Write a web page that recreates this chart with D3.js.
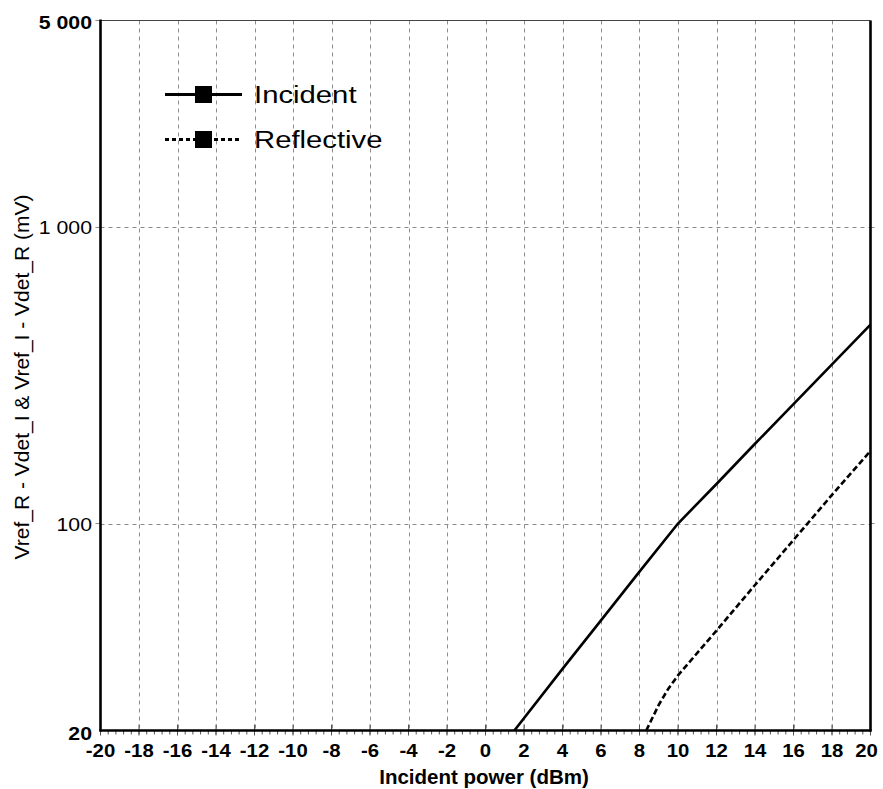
<!DOCTYPE html>
<html>
<head>
<meta charset="utf-8">
<script src="https://cdn.jsdelivr.net/npm/d3@7"></script>
<style>
  html, body { margin: 0; padding: 0; background: #fff; }
  svg { display: block; font-family: "Liberation Sans", Arial, sans-serif; }
</style>
</head>
<body>
<svg id="chart" width="883" height="789"></svg>
<script>
// ---- data ----
const xTicks = [-20,-18,-16,-14,-12,-10,-8,-6,-4,-2,0,2,4,6,8,10,12,14,16,18,20];
const yTickValues = [20, 100, 1000, 5000];
const yTickLabels = ["20", "100", "1 000", "5 000"];
const yTickBold = [true, false, false, true];
const incidentX = [1.5, 4, 6, 8, 10, 12, 14, 16, 18, 20];
const incidentY = [20, 32.3, 47.1, 68.8, 100, 136, 186, 253, 345, 470];
const reflectiveX = [8.35, 9, 9.5, 10, 12, 14, 16, 18, 20];
const reflectiveY = [20, 24.4, 27.7, 30.7, 43.5, 62, 88, 125, 176];
const seriesNames = ["Incident", "Reflective"];

// ---- layout ----
const svg = d3.select("#chart");
const L = 100.5, R = 870.5, T = 20.5, B = 730.5;
const x = d3.scaleLinear().domain([-20, 20]).range([L, R]);
const y = d3.scaleLog().domain([20, 5000]).range([B, T]);

// grid
const grid = svg.append("g");
grid.selectAll("line.v").data(xTicks.filter(d => d > -20 && d < 20)).enter()
  .append("line")
  .attr("x1", d => Math.round(x(d)) + 0.5).attr("x2", d => Math.round(x(d)) + 0.5)
  .attr("y1", T).attr("y2", B)
  .attr("stroke", "#8c8c8c").attr("stroke-width", 1).attr("stroke-dasharray", "4,4");
grid.selectAll("line.h").data([100, 1000]).enter()
  .append("line")
  .attr("x1", L).attr("x2", R)
  .attr("y1", d => Math.round(y(d)) + 0.5).attr("y2", d => Math.round(y(d)) + 0.5)
  .attr("stroke", "#8c8c8c").attr("stroke-width", 1).attr("stroke-dasharray", "4,4");

// minor x ticks (every 0.4)
const minor = d3.range(0, 101).map(i => -20 + i * 0.4);
svg.append("g").selectAll("line").data(minor).enter().append("line")
  .attr("x1", d => x(d)).attr("x2", d => x(d))
  .attr("y1", B).attr("y2", B + 4)
  .attr("stroke", "#555").attr("stroke-width", 1);
// major x ticks
svg.append("g").selectAll("line").data(xTicks).enter().append("line")
  .attr("x1", d => x(d)).attr("x2", d => x(d))
  .attr("y1", B - 6).attr("y2", B + 5)
  .attr("stroke", "#555").attr("stroke-width", 1);
// y ticks outside on left and right
svg.append("g").selectAll("line").data([100, 1000, 5000]).enter().append("line")
  .attr("x1", L - 5).attr("x2", L)
  .attr("y1", d => y(d)).attr("y2", d => y(d))
  .attr("stroke", "#888").attr("stroke-width", 1);
svg.append("g").selectAll("line").data([100, 1000]).enter().append("line")
  .attr("x1", R).attr("x2", R + 4)
  .attr("y1", d => y(d)).attr("y2", d => y(d))
  .attr("stroke", "#888").attr("stroke-width", 1);

// frame
svg.append("line").attr("x1", L).attr("x2", R).attr("y1", T).attr("y2", T)
  .attr("stroke", "#444").attr("stroke-width", 1.2);
svg.append("line").attr("x1", L).attr("x2", L).attr("y1", T - 1).attr("y2", B + 1)
  .attr("stroke", "#000").attr("stroke-width", 2.6);
svg.append("line").attr("x1", R).attr("x2", R).attr("y1", T).attr("y2", B + 1)
  .attr("stroke", "#000").attr("stroke-width", 2.6);
svg.append("line").attr("x1", L - 1).attr("x2", R + 1).attr("y1", B).attr("y2", B)
  .attr("stroke", "#000").attr("stroke-width", 2.6);

// series
const lineGen = d3.line().x(d => x(d[0])).y(d => y(d[1]));
const incData = incidentX.map((v, i) => [v, incidentY[i]]);
const refData = reflectiveX.map((v, i) => [v, reflectiveY[i]]);
svg.append("path").datum(incData).attr("d", lineGen)
  .attr("fill", "none").attr("stroke", "#000").attr("stroke-width", 2.6);
svg.append("path").datum(refData).attr("d", lineGen)
  .attr("fill", "none").attr("stroke", "#000").attr("stroke-width", 2.6)
  .attr("stroke-dasharray", "6,3");

// x tick labels
svg.append("g").selectAll("text").data(xTicks).enter().append("text")
  .attr("transform", d => `translate(${d === 20 ? x(d) - 4 : x(d)},757) scale(1.1,1)`)
  .attr("text-anchor", "middle").attr("font-size", 18.5).attr("font-weight", "bold")
  .attr("fill", "#000")
  .text(d => d);

// y tick labels
svg.append("g").selectAll("text").data(yTickValues).enter().append("text")
  .attr("transform", (d, i) => `translate(92,${i === 3 ? 28.5 : (i === 0 ? 740 : y(d) + 7)}) scale(1.12,1)`)
  .attr("text-anchor", "end").attr("font-size", 19)
  .attr("font-weight", (d, i) => yTickBold[i] ? "bold" : "normal")
  .attr("fill", "#000")
  .text((d, i) => yTickLabels[i]);

// axis titles
svg.append("text").attr("x", 484).attr("y", 784)
  .attr("text-anchor", "middle").attr("font-size", 20.5).attr("font-weight", "bold")
  .text("Incident power (dBm)");
svg.append("text")
  .attr("transform", "translate(29,377) rotate(-90)")
  .attr("text-anchor", "middle").attr("font-size", 21)
  .text("Vref_R - Vdet_I & Vref_I - Vdet_R (mV)");

// legend
const legend = svg.append("g");
const legY = [94.5, 139.5];
const legDash = [null, "4,3"];
seriesNames.forEach((name, i) => {
  legend.append("line").attr("x1", 165).attr("x2", 242)
    .attr("y1", legY[i]).attr("y2", legY[i])
    .attr("stroke", "#000").attr("stroke-width", 3)
    .attr("stroke-dasharray", legDash[i]);
  legend.append("rect").attr("x", 195).attr("y", legY[i] - 8.5)
    .attr("width", 17).attr("height", 17).attr("fill", "#000");
  legend.append("text")
    .attr("transform", `translate(254,${legY[i] + 8.5}) scale(1.22,1)`)
    .attr("font-size", 24).attr("fill", "#000").text(name);
});
</script>
</body>
</html>
